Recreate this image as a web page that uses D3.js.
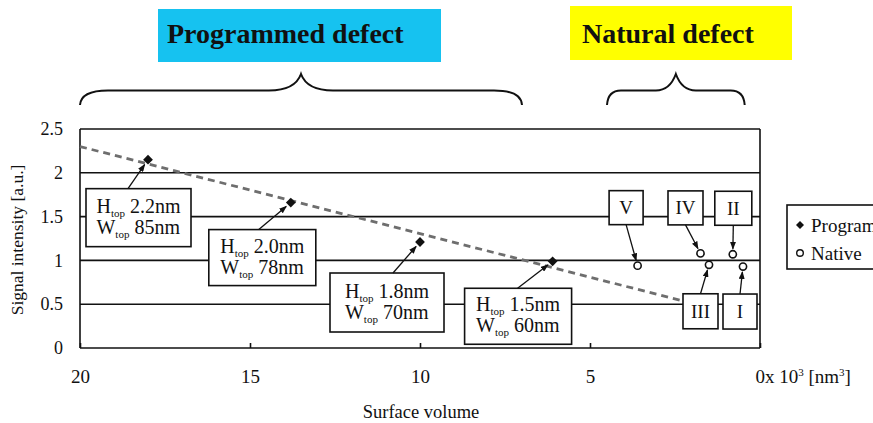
<!DOCTYPE html>
<html><head><meta charset="utf-8">
<script src="https://cdn.jsdelivr.net/npm/d3@7"></script>
<style>
html,body{margin:0;padding:0;background:#fff;}
svg{display:block;}
text{font-family:"Liberation Serif","Times New Roman",serif;fill:#111;}
</style></head><body>
<svg id="chart" width="873" height="423"></svg>
<script>
// ---- data ----
const volumeTicks = [20, 15, 10, 5, 0];
const signalTicks = [0, 0.5, 1, 1.5, 2, 2.5];

const programmedVolume = [18, 13.8, 10, 6.1];
const programmedSignal = [2.15, 1.66, 1.21, 0.99];
const programmedHeight = ["2.2nm", "2.0nm", "1.8nm", "1.5nm"];
const programmedWidth = ["85nm", "78nm", "70nm", "60nm"];

const nativeNames = ["I", "II", "III", "IV", "V"];
const nativeVolume = [0.5, 0.8, 1.5, 1.75, 3.6];
const nativeSignal = [0.93, 1.07, 0.95, 1.08, 0.94];

const trendVolume = [20, 2.3];
const trendSignal = [2.3, 0.54];

const groupNames = ["Programmed defect", "Natural defect"];
const groupSpans = [[20, 7], [4.5, 0.45]];
const groupColors = ["#16c2f0", "#ffff00"];
const legendNames = ["Programmed", "Native"];

// ---- layout ----
const svg = d3.select("#chart");
const x = d3.scaleLinear().domain([20, 0]).range([80, 760]);
const y = d3.scaleLinear().domain([0, 2.5]).range([348, 129]);

svg.append("defs").append("marker")
  .attr("id", "head").attr("markerUnits", "userSpaceOnUse")
  .attr("markerWidth", 8).attr("markerHeight", 6)
  .attr("refX", 7).attr("refY", 3).attr("orient", "auto")
  .append("path").attr("d", "M0,0 L8,3 L0,6 Z").attr("fill", "#111");

// horizontal grid lines (top one closes the frame)
svg.append("g").selectAll("line").data(signalTicks).join("line")
  .attr("x1", x(20)).attr("x2", x(0))
  .attr("y1", d => y(d)).attr("y2", d => y(d))
  .attr("stroke", "#111").attr("stroke-width", 1.6);

// side borders
svg.append("g").selectAll("line").data([20, 0]).join("line")
  .attr("x1", d => x(d)).attr("x2", d => x(d))
  .attr("y1", y(0)).attr("y2", y(2.5))
  .attr("stroke", "#111").attr("stroke-width", 1.6);

// x axis: inward ticks, labels below
const xAxis = svg.append("g").attr("transform", `translate(0,${y(0)})`)
  .call(d3.axisBottom(x).tickValues(volumeTicks).tickSizeInner(-5).tickSizeOuter(0).tickPadding(22).tickFormat(d => d));
xAxis.select(".domain").remove();
xAxis.selectAll(".tick line").attr("stroke", "#111").attr("stroke-width", 1.6);
xAxis.selectAll(".tick text").attr("font-family", "Liberation Serif").attr("font-size", 19).attr("fill", "#111");
xAxis.selectAll(".tick").filter(d => d === 0).select("text")
  .attr("text-anchor", "start").attr("x", -5).text(null)
  .call(t => {
    t.append("tspan").text("0x 10");
    t.append("tspan").attr("font-size", 11).attr("dy", -7).text("3");
    t.append("tspan").attr("dy", 7).text(" [nm");
    t.append("tspan").attr("font-size", 11).attr("dy", -7).text("3");
    t.append("tspan").attr("dy", 7).text("]");
  });

// y axis labels
const yAxis = svg.append("g").attr("transform", `translate(${x(20)},0)`)
  .call(d3.axisLeft(y).tickValues(signalTicks).tickSize(0).tickPadding(17).tickFormat(d => d));
yAxis.select(".domain").remove();
yAxis.selectAll(".tick text").attr("font-family", "Liberation Serif").attr("font-size", 18).attr("fill", "#111");

// axis titles
svg.append("text").attr("x", 421).attr("y", 418).attr("text-anchor", "middle")
  .attr("font-size", 18.5).text("Surface volume");
svg.append("text").attr("transform", "translate(23,240) rotate(-90)").attr("text-anchor", "middle")
  .attr("font-size", 17.5).attr("fill", "#333").text("Signal intensity [a.u.]");

// trend line
svg.append("path")
  .attr("d", d3.line().x(d => x(d[0])).y(d => y(d[1]))(d3.zip(trendVolume, trendSignal)))
  .attr("fill", "none").attr("stroke", "#6e6e6e").attr("stroke-width", 2.8)
  .attr("stroke-dasharray", "7,5");

// group headers with braces
const headerBoxes = [{x: 158, y: 9, w: 283, h: 53, pad: 9}, {x: 570, y: 6, w: 222, h: 54, pad: 12}];
groupNames.forEach((name, i) => {
  const b = headerBoxes[i];
  svg.append("rect").attr("x", b.x).attr("y", b.y).attr("width", b.w).attr("height", b.h)
    .attr("fill", groupColors[i]);
  svg.append("text").attr("x", b.x + b.pad).attr("y", 43)
    .attr("font-size", 28).attr("font-weight", "bold").attr("fill", "#0b0b1c").text(name);
  const x1 = x(groupSpans[i][0]), x2 = x(groupSpans[i][1]), m = (x1 + x2) / 2;
  const r = i === 0 ? 28 : 14, c = i === 0 ? 32 : 20;
  const yF = 90.5, yE = 105, yP = 74;
  const p = `M${x1},${yE} Q${x1 + 1},${yF} ${x1 + r},${yF} L${m - c},${yF} Q${m - 6},${yF} ${m},${yP}`
    + ` Q${m + 6},${yF} ${m + c},${yF} L${x2 - r},${yF} Q${x2 - 1},${yF} ${x2},${yE}`;
  svg.append("path").attr("d", p).attr("fill", "none").attr("stroke", "#111").attr("stroke-width", 2);
});

function arrow(x0, y0, x1, y1, gap) {
  const dx = x1 - x0, dy = y1 - y0, L = Math.hypot(dx, dy);
  svg.append("line").attr("x1", x0).attr("y1", y0)
    .attr("x2", x1 - dx / L * gap).attr("y2", y1 - dy / L * gap)
    .attr("stroke", "#111").attr("stroke-width", 1.3).attr("marker-end", "url(#head)");
}

// programmed-defect callouts
const progBox = [
  {dx: -62, dy: 29, w: 105, h: 58, ax: 42},
  {dx: -82, dy: 27, w: 107, h: 56, ax: 50},
  {dx: -90, dy: 31, w: 114, h: 59, ax: 63},
  {dx: -88, dy: 27, w: 107, h: 56, ax: 53}
];
programmedVolume.forEach((v, i) => {
  const px = x(v), py = y(programmedSignal[i]), b = progBox[i];
  const bx = px + b.dx, by = py + b.dy;
  svg.append("rect").attr("x", bx).attr("y", by).attr("width", b.w).attr("height", b.h)
    .attr("fill", "#fff").attr("stroke", "#111").attr("stroke-width", 1.6);
  const lines = [["H", programmedHeight[i]], ["W", programmedWidth[i]]].map((l, k) => {
    const t = svg.append("text").attr("y", by + b.h / 2 - 5 + k * 21).attr("font-size", 20);
    t.append("tspan").text(l[0]);
    t.append("tspan").attr("font-size", 11).attr("dy", 4).text("top");
    t.append("tspan").attr("dy", -4).text(" " + l[1]);
    return t;
  });
  const maxW = d3.max(lines, t => t.node().getComputedTextLength());
  lines.forEach(t => t.attr("x", bx + (b.w - maxW) / 2));
  arrow(bx + b.ax, by, px, py, 6);
});

// natural-defect callouts
const nativeBox = [
  {dx: -20, dy: 27.5, w: 34, h: 35},
  {dx: -18, dy: -63, w: 37, h: 34},
  {dx: -26, dy: 29, w: 35, h: 35},
  {dx: -32.5, dy: -62.5, w: 35, h: 34},
  {dx: -28.5, dy: -75, w: 34, h: 34}
];
nativeVolume.forEach((v, i) => {
  const px = x(v), py = y(nativeSignal[i]), b = nativeBox[i];
  const bx = px + b.dx, by = py + b.dy;
  svg.append("rect").attr("x", bx).attr("y", by).attr("width", b.w).attr("height", b.h)
    .attr("fill", "#fff").attr("stroke", "#111").attr("stroke-width", 1.6);
  svg.append("text").attr("x", bx + b.w / 2).attr("y", by + b.h / 2 + 6.5)
    .attr("text-anchor", "middle").attr("font-size", 19).text(nativeNames[i]);
  const sy = b.dy < 0 ? by + b.h : by;
  arrow(bx + b.w / 2, sy, px, py, 5.5);
});

// markers: filled squares turned 45° for programmed, open rings for native
svg.append("g").selectAll("path").data(d3.zip(programmedVolume, programmedSignal)).join("path")
  .attr("transform", d => `translate(${x(d[0])},${y(d[1])}) rotate(45)`)
  .attr("d", d3.symbol(d3.symbolSquare, 48)).attr("fill", "#111");
svg.append("g").selectAll("circle").data(d3.zip(nativeVolume, nativeSignal)).join("circle")
  .attr("cx", d => x(d[0])).attr("cy", d => y(d[1])).attr("r", 3.6)
  .attr("fill", "#fff").attr("stroke", "#111").attr("stroke-width", 1.6);

// legend
const lg = svg.append("g").attr("transform", "translate(787,205)");
lg.append("rect").attr("width", 120).attr("height", 64)
  .attr("fill", "#fff").attr("stroke", "#111").attr("stroke-width", 1.6);
lg.append("path").attr("transform", "translate(13,20) rotate(45)")
  .attr("d", d3.symbol(d3.symbolSquare, 32)).attr("fill", "#111");
lg.append("circle").attr("cx", 13).attr("cy", 48).attr("r", 3.3)
  .attr("fill", "#fff").attr("stroke", "#111").attr("stroke-width", 1.4);
legendNames.forEach((n, i) => {
  lg.append("text").attr("x", 24).attr("y", 27 + i * 28).attr("font-size", 19).text(n);
});
</script>
</body></html>
